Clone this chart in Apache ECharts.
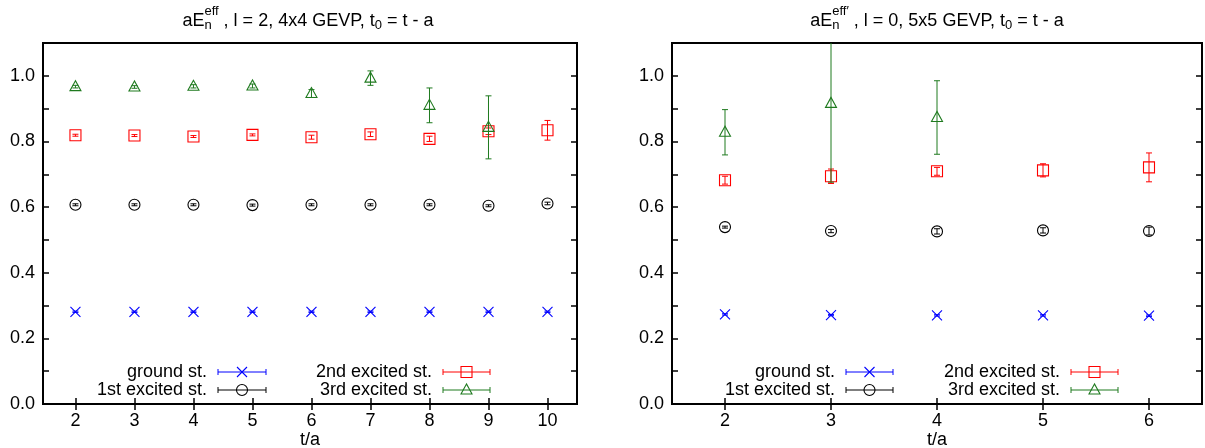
<!DOCTYPE html>
<html><head><meta charset="utf-8">
<script src="https://cdn.jsdelivr.net/npm/echarts@6/dist/echarts.min.js"></script>
<style>html,body{margin:0;padding:0;background:#fff}#c{width:1205px;height:448px}</style>
</head><body><div id="c"></div>
<script>
const FONT = '"Liberation Sans", Arial, Helvetica, sans-serif';

// ---------- data: left panel (l = 2, 4x4 GEVP) ----------
const tLeft = [2, 3, 4, 5, 6, 7, 8, 9, 10];
const groundL = [0.281, 0.281, 0.281, 0.281, 0.281, 0.281, 0.281, 0.281, 0.281];
const groundLErr = [0.002, 0.002, 0.002, 0.002, 0.002, 0.002, 0.002, 0.002, 0.002];
const firstL = [0.607, 0.607, 0.607, 0.606, 0.607, 0.607, 0.607, 0.604, 0.611];
const firstLErr = [0.003, 0.003, 0.003, 0.003, 0.003, 0.003, 0.003, 0.003, 0.004];
const secondL = [0.819, 0.818, 0.815, 0.820, 0.813, 0.822, 0.808, 0.831, 0.834];
const secondLErr = [0.003, 0.003, 0.003, 0.003, 0.006, 0.007, 0.008, 0.010, 0.030];
const tLeft3 = [2, 3, 4, 5, 6, 7, 8, 9];
const thirdL = [0.967, 0.966, 0.968, 0.969, 0.946, 0.993, 0.910, 0.843];
const thirdLErr = [0.004, 0.004, 0.005, 0.006, 0.012, 0.022, 0.053, 0.096];

// ---------- data: right panel (l = 0, 5x5 GEVP) ----------
const tRight = [2, 3, 4, 5, 6];
const groundR = [0.273, 0.271, 0.270, 0.270, 0.269];
const groundRErr = [0.002, 0.002, 0.002, 0.002, 0.002];
const firstR = [0.539, 0.527, 0.526, 0.529, 0.527];
const firstRErr = [0.003, 0.005, 0.008, 0.008, 0.012];
const secondR = [0.682, 0.694, 0.709, 0.712, 0.721];
const secondRErr = [0.012, 0.022, 0.012, 0.020, 0.044];
const tRight3 = [2, 3, 4];
const thirdR = [0.828, 0.916, 0.873];
const thirdRErr = [0.069, 0.240, 0.112];

// ---------- ticks / labels ----------
const xTicksLeft = [2, 3, 4, 5, 6, 7, 8, 9, 10];
const xTicksRight = [2, 3, 4, 5, 6];
const yLabelValues = [0, 0.2, 0.4, 0.6, 0.8, 1.0];
const yTickValues = [0, 0.1, 0.2, 0.3, 0.4, 0.5, 0.6, 0.7, 0.8, 0.9, 1.0];
const legendNames = ['ground st.', '1st excited st.', '2nd excited st.', '3rd excited st.'];

const COL = { ground: '#0000ff', first: '#000000', second: '#ff0000', third: '#1f7a1f' };

function markerEls(shape, x, y, color) {
  const st = { stroke: color, lineWidth: 1.1, fill: 'none' };
  if (shape === 'x') return [
    { type: 'line', shape: { x1: x - 5, y1: y - 5, x2: x + 5, y2: y + 5 }, style: st },
    { type: 'line', shape: { x1: x - 5, y1: y + 5, x2: x + 5, y2: y - 5 }, style: st }];
  if (shape === 'circle') return [{ type: 'circle', shape: { cx: x, cy: y, r: 5.5 }, style: st }];
  if (shape === 'square') return [{ type: 'rect', shape: { x: x - 5.5, y: y - 5.5, width: 11, height: 11 }, style: st }];
  return [{ type: 'polygon', shape: { points: [[x, y - 6], [x - 5.5, y + 4], [x + 5.5, y + 4]] }, style: st }];
}

function errSeries(name, xs, ys, es, shape, color, xi, yi) {
  return {
    type: 'custom', name, xAxisIndex: xi, yAxisIndex: yi, silent: true, animation: false,
    data: xs.map((x, i) => [x, ys[i], es[i]]),
    renderItem(params, api) {
      const x = api.value(0), v = api.value(1), e = api.value(2);
      const c = api.coord([x, v]);
      const top = api.coord([x, v + e])[1], bot = api.coord([x, v - e])[1];
      const cs = params.coordSys;
      const yTop = Math.max(top, cs.y), yBot = Math.min(bot, cs.y + cs.height);
      const st = { stroke: color, lineWidth: 1 };
      const ch = [{ type: 'line', shape: { x1: c[0], y1: yTop, x2: c[0], y2: yBot }, style: st }];
      if (top >= cs.y) ch.push({ type: 'line', shape: { x1: c[0] - 3, y1: top, x2: c[0] + 3, y2: top }, style: st });
      ch.push({ type: 'line', shape: { x1: c[0] - 3, y1: bot, x2: c[0] + 3, y2: bot }, style: st });
      ch.push(...markerEls(shape, c[0], c[1], color));
      return { type: 'group', children: ch };
    }
  };
}

function xAxisPair(gi, ticks, min, max) {
  const base = {
    type: 'value', gridIndex: gi, min: min, max: max,
    axisLine: { show: false }, splitLine: { show: false },
    axisTick: { show: true, inside: true, length: 6, lineStyle: { color: '#000', width: 1.5 }, customValues: ticks }
  };
  return [
    Object.assign({}, base, {
      position: 'bottom',
      axisLabel: { show: true, customValues: ticks, margin: 8, fontSize: 18, color: '#000', fontFamily: FONT },
      name: 't/a', nameLocation: 'middle', nameGap: 27, nameMoveOverlap: false,
      nameTextStyle: { fontSize: 18, color: '#000', fontFamily: FONT }
    }),
    Object.assign({}, base, { position: 'top', axisLabel: { show: false } })
  ];
}
function yAxisPair(gi) {
  const base = {
    type: 'value', gridIndex: gi, min: 0, max: 1.1,
    axisLine: { show: false }, splitLine: { show: false },
    axisTick: { show: true, inside: true, length: 6, lineStyle: { color: '#000', width: 1.5 }, customValues: yTickValues }
  };
  return [
    Object.assign({}, base, {
      position: 'left',
      axisLabel: { show: true, customValues: yLabelValues, margin: 8, fontSize: 18, color: '#000', fontFamily: FONT,
        formatter: v => v.toFixed(1) }
    }),
    Object.assign({}, base, { position: 'right', axisLabel: { show: false } })
  ];
}

// title built from pieces (main text, stacked sub/superscript, subscript)
function titleEls(parts, cx) {
  const ctx = document.createElement('canvas').getContext('2d');
  const M = 18, S = 13, base = 27;
  const meas = (t, s) => { ctx.font = s + 'px ' + FONT; return ctx.measureText(t).width; };
  let w = 0; const items = [];
  for (const p of parts) {
    if (p.stack) {
      const w1 = meas(p.sub, S), w2 = meas(p.sup, S);
      items.push({ t: p.sub, x: w, s: S, y: base + 3 - S * 0.33 });
      items.push({ t: p.sup, x: w, s: S, y: base - 11 - S * 0.33 });
      w += Math.max(w1, w2);
    } else if (p.sub) {
      items.push({ t: p.sub, x: w, s: S, y: base + 3 - S * 0.33 });
      w += meas(p.sub, S);
    } else {
      items.push({ t: p.t, x: w, s: M, y: base - M * 0.33 });
      w += meas(p.t, M);
    }
  }
  const x0 = cx - w / 2;
  return items.map(it => ({
    type: 'text', x: x0 + it.x, y: it.y, silent: true,
    style: { text: it.t, fontSize: it.s, fontFamily: FONT, fill: '#000', align: 'left', verticalAlign: 'middle' }
  }));
}

function legendEls(cols, rows) {
  const entries = [
    { name: legendNames[0], shape: 'x', color: COL.ground, col: 0, row: 0 },
    { name: legendNames[1], shape: 'circle', color: COL.first, col: 0, row: 1 },
    { name: legendNames[2], shape: 'square', color: COL.second, col: 1, row: 0 },
    { name: legendNames[3], shape: 'triangle', color: COL.third, col: 1, row: 1 }
  ];
  const els = [];
  for (const e of entries) {
    const c = cols[e.col], y = rows[e.row];
    els.push({ type: 'text', x: c.textRight, y: y, silent: true,
      style: { text: e.name, fontSize: 18, fontFamily: FONT, fill: '#000', align: 'right', verticalAlign: 'middle' } });
    const st = { stroke: e.color, lineWidth: 1 };
    els.push({ type: 'line', shape: { x1: c.x1, y1: y, x2: c.x2, y2: y }, style: st, silent: true });
    els.push({ type: 'line', shape: { x1: c.x1, y1: y - 3, x2: c.x1, y2: y + 3 }, style: st, silent: true });
    els.push({ type: 'line', shape: { x1: c.x2, y1: y - 3, x2: c.x2, y2: y + 3 }, style: st, silent: true });
    const xm = (c.x1 + c.x2) / 2;
    markerEls(e.shape, xm, y, e.color).forEach(m => { m.silent = true; els.push(m); });
  }
  return els;
}

const xa = xAxisPair(0, xTicksLeft, 1.45, 10.5).concat(xAxisPair(1, xTicksRight, 1.5, 6.5));
const ya = yAxisPair(0).concat(yAxisPair(1));

const graphics = []
  .concat(titleEls([{ t: 'aE' }, { stack: true, sub: 'n', sup: 'eff' }, { t: ' , l = 2, 4x4 GEVP, t' }, { sub: '0' }, { t: ' = t - a' }], 308))
  .concat(titleEls([{ t: 'aE' }, { stack: true, sub: 'n', sup: 'eff\u2032' }, { t: ' , l = 0, 5x5 GEVP, t' }, { sub: '0' }, { t: ' = t - a' }], 937))
  .concat(legendEls([{ textRight: 207, x1: 218, x2: 266 }, { textRight: 432, x1: 443, x2: 490 }], [372, 390]))
  .concat(legendEls([{ textRight: 835, x1: 846, x2: 893 }, { textRight: 1060, x1: 1071, x2: 1118 }], [372, 390]));

const gridBase = { top: 43, bottom: 44, show: true, borderColor: '#000', borderWidth: 2,
  backgroundColor: 'transparent', containLabel: false, outerBoundsMode: 'none' };

const option = {
  animation: false,
  backgroundColor: '#fff',
  grid: [
    Object.assign({ left: 43, right: 628 }, gridBase),
    Object.assign({ left: 672, right: 3 }, gridBase)
  ],
  xAxis: xa,
  yAxis: ya,
  series: [
    errSeries('ground st.', tLeft, groundL, groundLErr, 'x', COL.ground, 0, 0),
    errSeries('1st excited st.', tLeft, firstL, firstLErr, 'circle', COL.first, 0, 0),
    errSeries('2nd excited st.', tLeft, secondL, secondLErr, 'square', COL.second, 0, 0),
    errSeries('3rd excited st.', tLeft3, thirdL, thirdLErr, 'triangle', COL.third, 0, 0),
    errSeries('ground st.', tRight, groundR, groundRErr, 'x', COL.ground, 2, 2),
    errSeries('1st excited st.', tRight, firstR, firstRErr, 'circle', COL.first, 2, 2),
    errSeries('2nd excited st.', tRight, secondR, secondRErr, 'square', COL.second, 2, 2),
    errSeries('3rd excited st.', tRight3, thirdR, thirdRErr, 'triangle', COL.third, 2, 2)
  ],
  graphic: graphics
};

const chart = echarts.init(document.getElementById('c'), null, { renderer: 'canvas' });
chart.setOption(option);
</script>
</body></html>
